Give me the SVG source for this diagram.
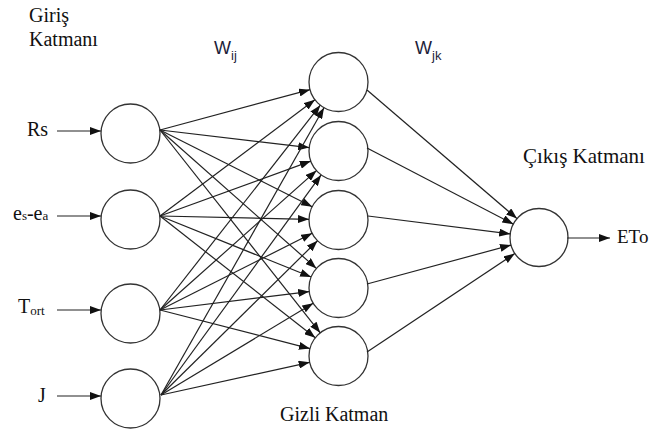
<svg xmlns="http://www.w3.org/2000/svg" width="652" height="432" viewBox="0 0 652 432">
<style>
.n{fill:#fff;stroke:#333;stroke-width:1.3}
.c line{stroke:#222;stroke-width:1.2;marker-end:url(#ah)}
</style>
<defs>
<marker id="ah" markerUnits="userSpaceOnUse" markerWidth="12" markerHeight="8" refX="11" refY="4" orient="auto">
<path d="M0,0 L11,4 L0,8 z" fill="#111"/>
</marker>
</defs>
<rect width="652" height="432" fill="#fff"/>
<g id="labels" font-family="'Liberation Serif', 'DejaVu Serif', 'Times New Roman', serif" font-size="20" fill="#111">
<text x="29" y="22">Giriş</text>
<text x="29" y="46">Katmanı</text>
<text x="523" y="163" font-size="21">Çıkış Katmanı</text>
<text x="280" y="421">Gizli Katman</text>
</g>
<g id="weights" font-family="'Liberation Sans', Arial, sans-serif" font-size="18" fill="#1d1d3a">
<text x="214" y="54">W<tspan font-size="13" dy="6">ij</tspan></text>
<text x="415" y="54">W<tspan font-size="13" dy="6">jk</tspan></text>
</g>
<g font-family="'Liberation Serif', 'DejaVu Serif', 'Times New Roman', serif" font-size="20" fill="#111">
<g id="in1"><circle class="n" cx="130.5" cy="133.5" r="29.5"/><text x="27" y="136">Rs</text></g>
<g id="in2"><circle class="n" cx="130.5" cy="219.5" r="29.5"/><text x="13" y="220">e<tspan font-size="13">s</tspan>-e<tspan font-size="13">a</tspan></text></g>
<g id="in3"><circle class="n" cx="130.5" cy="313.5" r="29.5"/><text x="18" y="313">T<tspan font-size="13" dy="2">ort</tspan></text></g>
<g id="in4"><circle class="n" cx="130.5" cy="398.5" r="29.5"/><text x="38" y="402">J</text></g>
<g id="h1"><circle class="n" cx="338.5" cy="82" r="29.5"/></g>
<g id="h2"><circle class="n" cx="338.5" cy="151" r="29.5"/></g>
<g id="h3"><circle class="n" cx="338.5" cy="220" r="29.5"/></g>
<g id="h4"><circle class="n" cx="338.5" cy="288" r="29.5"/></g>
<g id="h5"><circle class="n" cx="338.5" cy="356" r="29.5"/></g>
<g id="out"><circle class="n" cx="539" cy="237.5" r="29"/><text x="617" y="243" font-size="19">ETo</text></g>
</g>
<g id="connectors" class="c">
<line x1="57" y1="131" x2="101" y2="131"/>
<line x1="57" y1="216" x2="101" y2="216"/>
<line x1="57" y1="310" x2="101" y2="310"/>
<line x1="57" y1="396" x2="101" y2="396"/>
<line x1="160" y1="130" x2="310.0" y2="89.7"/>
<line x1="160" y1="130" x2="309.2" y2="147.6"/>
<line x1="160" y1="130" x2="312.2" y2="206.7"/>
<line x1="160" y1="130" x2="316.4" y2="268.4"/>
<line x1="160" y1="130" x2="320.2" y2="332.8"/>
<line x1="160" y1="216" x2="314.9" y2="99.7"/>
<line x1="160" y1="216" x2="310.8" y2="161.1"/>
<line x1="160" y1="216" x2="309.0" y2="219.3"/>
<line x1="160" y1="216" x2="311.1" y2="277.0"/>
<line x1="160" y1="216" x2="315.3" y2="337.8"/>
<line x1="160" y1="310" x2="320.3" y2="105.2"/>
<line x1="160" y1="310" x2="316.5" y2="170.6"/>
<line x1="160" y1="310" x2="312.2" y2="233.3"/>
<line x1="160" y1="310" x2="309.2" y2="291.6"/>
<line x1="160" y1="310" x2="309.9" y2="348.6"/>
<line x1="161" y1="395" x2="324.0" y2="107.7"/>
<line x1="161" y1="395" x2="321.1" y2="174.9"/>
<line x1="161" y1="395" x2="317.5" y2="240.7"/>
<line x1="161" y1="395" x2="313.2" y2="303.2"/>
<line x1="161" y1="395" x2="309.7" y2="362.3"/>
<line x1="367" y1="90" x2="517" y2="218.6"/>
<line x1="367" y1="148" x2="513.3" y2="224.1"/>
<line x1="368" y1="216" x2="510.2" y2="233.9"/>
<line x1="367" y1="284" x2="511" y2="245.1"/>
<line x1="367" y1="352" x2="514.8" y2="253.6"/>
<line x1="567" y1="238" x2="610" y2="238"/>
</g>
</svg>
